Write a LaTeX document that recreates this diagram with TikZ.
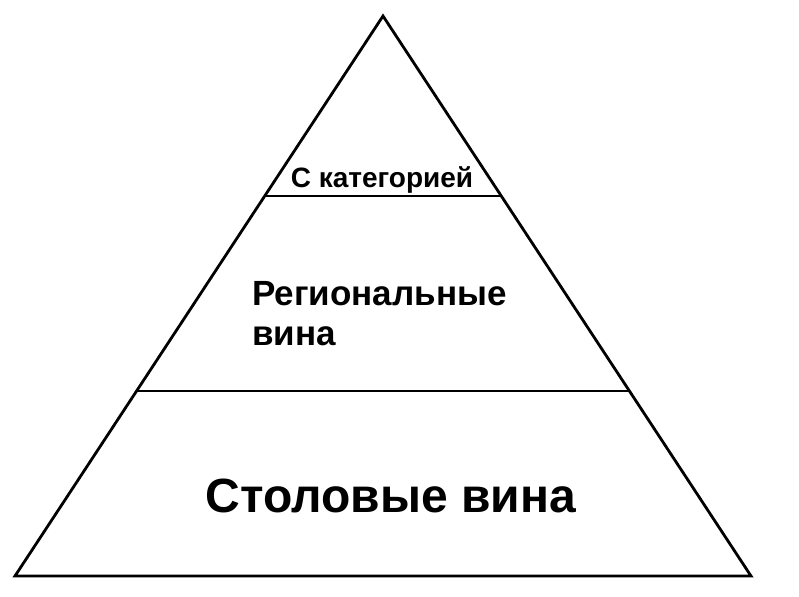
\documentclass[tikz,border=0pt]{standalone}
\usepackage{fontspec}
\setmainfont{Liberation Sans}
\usetikzlibrary{backgrounds}
\pgfdeclarelayer{edgelayer}
\pgfdeclarelayer{nodelayer}
\pgfsetlayers{nodelayer,main,edgelayer}

\begin{document}
\begin{tikzpicture}[x=1pt, y=-1pt]
	\useasboundingbox (0, 0) rectangle (799, 596);
	\begin{pgfonlayer}{nodelayer}
		\node [] (0) at (383, 16) {};
		\node [] (1) at (15, 576) {};
		\node [] (2) at (751, 576) {};
		\node [] (3) at (264.7, 196) {};
		\node [] (4) at (501.3, 196) {};
		\node [] (5) at (136.6, 391) {};
		\node [] (6) at (629.4, 391) {};
		\node [font={\fontsize{28}{30}\selectfont\bfseries}, inner sep=0pt, anchor=base] (7) at (382, 187) {С категорией};
		\node [font={\fontsize{35}{40}\selectfont\bfseries}, align=left, inner sep=0pt, anchor=base west] (8) at (252, 345) {Региональные\\вина};
		\node [font={\fontsize{48}{56}\selectfont\bfseries}, inner sep=0pt, anchor=base] (9) at (391, 512) {Столовые вина};
	\end{pgfonlayer}
	\begin{pgfonlayer}{edgelayer}
		\draw [line width=2.8pt] (0.center) -- (1.center) -- (2.center) -- cycle;
		\draw [line width=2.8pt] (3.center) to (4.center);
		\draw [line width=2.8pt] (5.center) to (6.center);
	\end{pgfonlayer}
\end{tikzpicture}
\end{document}
